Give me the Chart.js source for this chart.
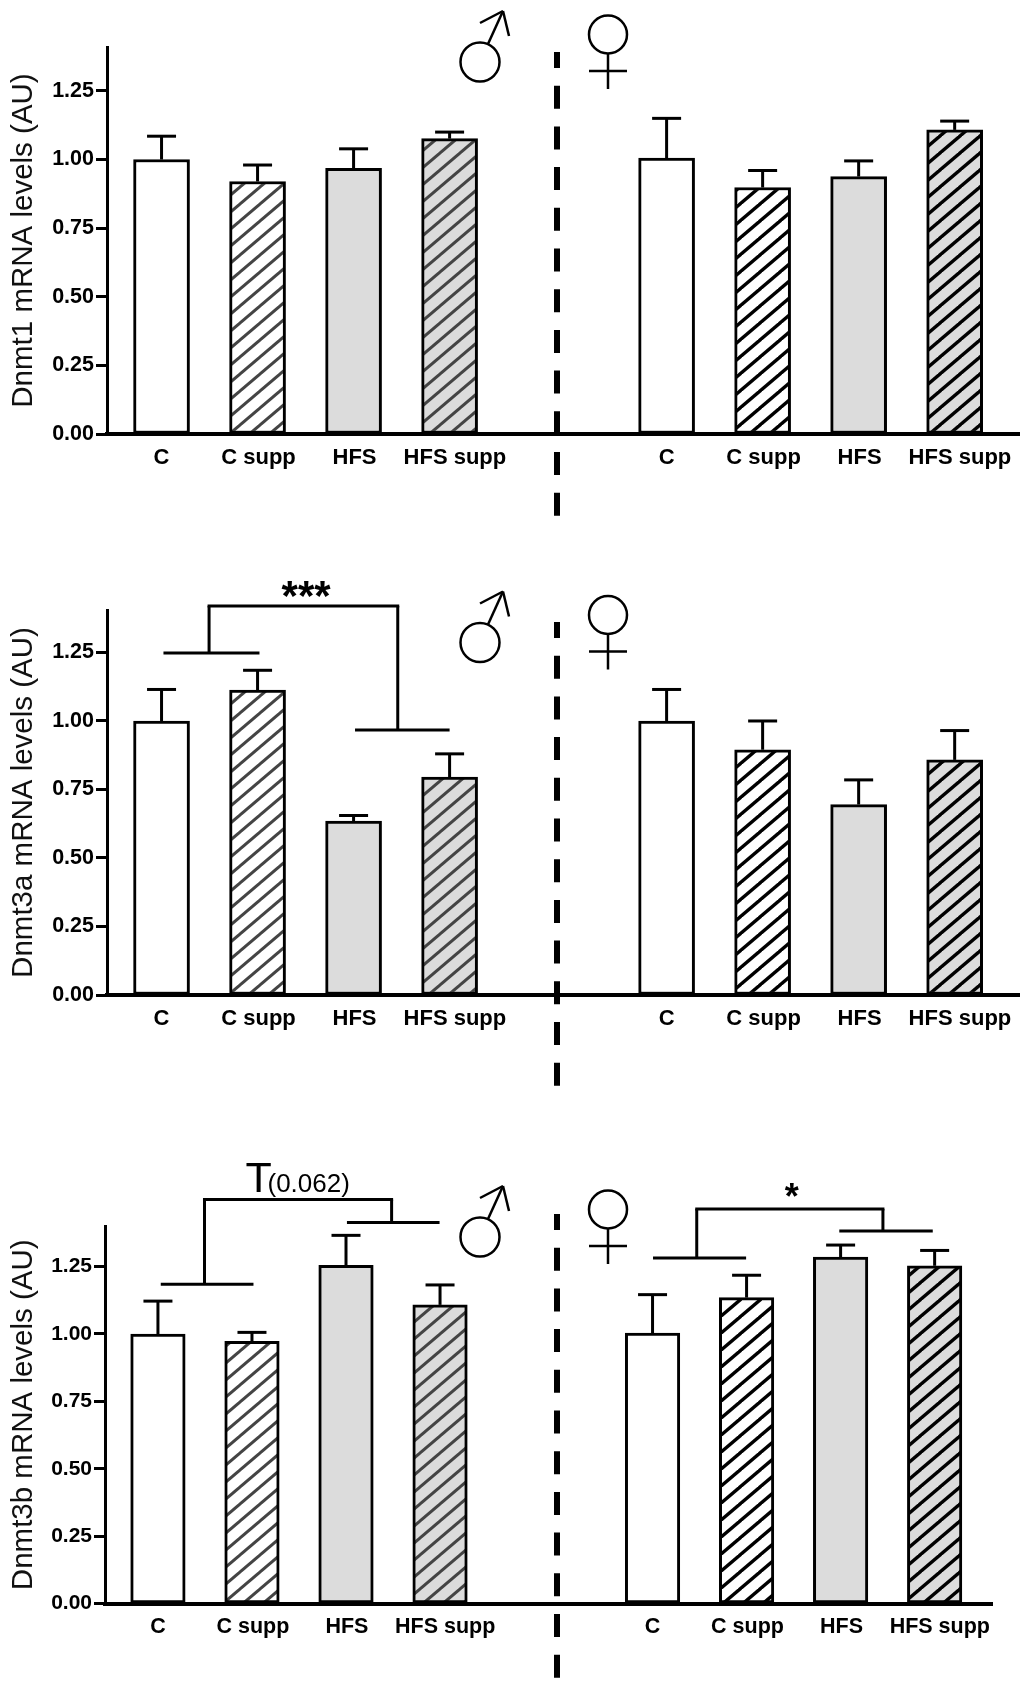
<!DOCTYPE html>
<html>
<head>
<meta charset="utf-8">
<title>Dnmt mRNA levels</title>
<script src="https://cdn.jsdelivr.net/npm/chart.js@4"></script>
<style>
    html, body { margin: 0; padding: 0; background: #fff; }
    body { position: relative; width: 1024px; height: 1689px; overflow: hidden; }
    canvas { position: absolute; left: 0; }
</style>
</head>
<body>
<canvas id="chart1" style="top: 0px" role="img" aria-label="Dnmt1 mRNA levels, male ♂ and female ♀"></canvas>
<canvas id="chart2" style="top: 560px" role="img" aria-label="Dnmt3a mRNA levels, male ♂ and female ♀"></canvas>
<canvas id="chart3" style="top: 1130px" role="img" aria-label="Dnmt3b mRNA levels, male ♂ and female ♀"></canvas>
<script>
const categories = ["C", "C supp", "HFS", "HFS supp"];
const yTicks = [0, 0.25, 0.5, 0.75, 1, 1.25];

// slot of each bar on the x axis, the two sexes sit either side of the dashed line
const malePos = [1, 2, 3, 4];
const femalePos = [6.26, 7.26, 8.26, 9.26];
// the tick labels are not quite centred under their bars
const labelShift = [0, 0.01, 0.01, 0.055];

const dnmt1Male = [1.0, 0.92, 0.968, 1.076];
const dnmt1MaleErr = [0.085, 0.06, 0.071, 0.024];
const dnmt1Female = [1.005, 0.898, 0.938, 1.108];
const dnmt1FemaleErr = [0.145, 0.062, 0.057, 0.032];

const dnmt3aMale = [1.0, 1.113, 0.635, 0.795];
const dnmt3aMaleErr = [0.115, 0.072, 0.02, 0.085];
const dnmt3aFemale = [1.0, 0.895, 0.695, 0.858];
const dnmt3aFemaleErr = [0.115, 0.105, 0.09, 0.107];

const dnmt3bMale = [1.0, 0.973, 1.255, 1.108];
const dnmt3bMaleErr = [0.122, 0.033, 0.111, 0.074];
const dnmt3bFemale = [1.003, 1.135, 1.285, 1.253];
const dnmt3bFemaleErr = [0.143, 0.083, 0.045, 0.057];

const FONT = '"Liberation Sans", Arial, sans-serif';
const GRAY = "#dcdcdc";

function hatch(bg, color, lineWidth) {
    const w = 20, h = 17;
    const c = document.createElement("canvas");
    c.width = w;
    c.height = h;
    const g = c.getContext("2d");
    g.fillStyle = bg;
    g.fillRect(0, 0, w, h);
    g.strokeStyle = color;
    g.lineWidth = lineWidth;
    [-1, 0, 1].forEach(k => {
        g.beginPath();
        g.moveTo(k * w - 1, h + 0.85);
        g.lineTo(k * w + w + 1, -0.85);
        g.stroke();
    });
    return g.createPattern(c, "repeat");
}

const fills = [
    "#ffffff", hatch("#ffffff", "#444444", 3), GRAY, hatch(GRAY, "#444444", 3),
    "#ffffff", hatch("#ffffff", "#000000", 3.4), GRAY, hatch(GRAY, "#000000", 3.4)
];

function line(ctx, x1, y1, x2, y2) {
    ctx.beginPath();
    ctx.moveTo(x1, y1);
    ctx.lineTo(x2, y2);
    ctx.stroke();
}

function drawMale(ctx, dy) {
    ctx.lineWidth = 2.5;
    ctx.strokeStyle = "#000";
    ctx.beginPath();
    ctx.arc(480, 62 + dy, 19.5, 0, Math.PI * 2);
    ctx.stroke();
    line(ctx, 488, 44 + dy, 503, 11 + dy);
    line(ctx, 480, 23 + dy, 503, 11 + dy);
    line(ctx, 503, 11 + dy, 509, 36 + dy);
}

function drawFemale(ctx, dy) {
    ctx.lineWidth = 2.5;
    ctx.strokeStyle = "#000";
    ctx.beginPath();
    ctx.arc(608, 34.5 + dy, 19, 0, Math.PI * 2);
    ctx.stroke();
    line(ctx, 608, 54 + dy, 608, 89 + dy);
    line(ctx, 589, 71 + dy, 627, 71 + dy);
}

const overlay = {
    id: "overlay",
    afterDatasetsDraw(chart, args, opts) {
        const ctx = chart.ctx;
        const x = chart.scales.x;
        const y = chart.scales.y;
        ctx.save();
        ctx.strokeStyle = "#000";
        ctx.fillStyle = "#000";

        // error bars, upper side only
        ctx.lineWidth = 3;
        opts.errors.forEach((err, i) => {
            const px = x.getPixelForValue(opts.positions[i]);
            const top = y.getPixelForValue(opts.values[i] + err);
            line(ctx, px, y.getPixelForValue(opts.values[i]), px, top);
            line(ctx, px - 14.5, top, px + 14.5, top);
        });

        // significance brackets
        ctx.lineWidth = 3;
        opts.brackets.forEach(b => {
            const top = y.getPixelForValue(b.top);
            const lowL = y.getPixelForValue(b.left[2]);
            const lowR = y.getPixelForValue(b.right[2]);
            const xL = x.getPixelForValue(b.stems[0]);
            const xR = x.getPixelForValue(b.stems[1]);
            line(ctx, xL - 1.5, top, xR + 1.5, top);
            line(ctx, xL, top, xL, lowL);
            line(ctx, xR, top, xR, lowR);
            line(ctx, x.getPixelForValue(b.left[0]), lowL, x.getPixelForValue(b.left[1]), lowL);
            line(ctx, x.getPixelForValue(b.right[0]), lowR, x.getPixelForValue(b.right[1]), lowR);
        });

        opts.labels.forEach(t => {
            ctx.font = (t.weight || "normal") + " " + t.size + "px " + FONT;
            ctx.textAlign = t.align;
            ctx.textBaseline = "alphabetic";
            ctx.fillText(t.text, x.getPixelForValue(t.x), y.getPixelForValue(t.y));
        });

        // dashed divider between male and female
        ctx.lineWidth = 6;
        ctx.setLineDash([23, 17.7]);
        ctx.lineDashOffset = 7;
        line(ctx, 557, opts.dash[0], 557, opts.dash[1]);
        ctx.setLineDash([]);

        drawMale(ctx, opts.symbolDy);
        drawFemale(ctx, opts.symbolDy);
        ctx.restore();
    }
};

function createConfig(p) {
    const values = p.male.concat(p.female);
    const positions = malePos.concat(femalePos);
    const axisHeight = 40;
    return {
        type: "bar",
        data: {
            datasets: [{
                data: positions.map((x, i) => ({ x: x, y: values[i] })),
                backgroundColor: fills,
                borderColor: "#000",
                borderWidth: 3,
                borderSkipped: false,
                barThickness: p.barWidth
            }]
        },
        options: {
            responsive: false,
            animation: false,
            devicePixelRatio: 1,
            layout: {
                padding: {
                    top: p.plot.top,
                    left: 0,
                    right: 1024 - p.plot.right,
                    bottom: p.height - p.plot.bottom - axisHeight
                }
            },
            plugins: {
                legend: { display: false },
                tooltip: { enabled: false },
                overlay: {
                    values: values,
                    positions: positions,
                    errors: p.maleErr.concat(p.femaleErr),
                    brackets: p.brackets,
                    labels: p.labels,
                    dash: p.dash,
                    symbolDy: p.symbolDy
                }
            },
            scales: {
                x: {
                    type: "linear",
                    offset: false,
                    min: p.xRange[0],
                    max: p.xRange[1],
                    grid: { display: false, drawTicks: false, offset: false },
                    border: { display: true, color: "#000", width: 4 },
                    afterBuildTicks: scale => {
                        scale.ticks = positions.map((v, i) => ({ value: v + labelShift[i % 4] }));
                    },
                    afterFit: scale => { scale.height = axisHeight; },
                    ticks: {
                        autoSkip: false,
                        maxRotation: 0,
                        padding: 11,
                        color: "#000",
                        font: { family: FONT, size: p.fontSize + 0.5, weight: "bold" },
                        callback: (v, i) => categories[i % 4]
                    }
                },
                y: {
                    min: 0,
                    max: p.yMax,
                    grid: { drawOnChartArea: false, tickLength: 11, tickWidth: 3, tickColor: "#000" },
                    border: { display: true, color: "#000", width: 3 },
                    afterBuildTicks: scale => {
                        scale.ticks = yTicks.map(v => ({ value: v }));
                    },
                    afterFit: scale => { scale.width = p.plot.left; },
                    title: {
                        display: true,
                        text: p.yTitle,
                        color: "#111",
                        font: { family: FONT, size: 29.5, weight: "normal" },
                        padding: { top: 6, bottom: 0 }
                    },
                    ticks: {
                        padding: 2,
                        color: "#000",
                        font: { family: FONT, size: p.fontSize, weight: "bold" },
                        callback: v => v.toFixed(2)
                    }
                }
            }
        },
        plugins: [overlay]
    };
}

const panels = [
    {
        id: "chart1", height: 540, yTitle: "Dnmt1 mRNA levels (AU)",
        plot: { top: 47, bottom: 434, left: 107, right: 1019 },
        xRange: [0.432, 9.93], yMax: 1.41, barWidth: 56, fontSize: 21.5,
        male: dnmt1Male, maleErr: dnmt1MaleErr, female: dnmt1Female, femaleErr: dnmt1FemaleErr,
        brackets: [], labels: [], dash: [52, 516], symbolDy: 0
    },
    {
        id: "chart2", height: 540, yTitle: "Dnmt3a mRNA levels (AU)",
        plot: { top: 50, bottom: 435, left: 107, right: 1019 },
        xRange: [0.432, 9.93], yMax: 1.405, barWidth: 56, fontSize: 21.5,
        male: dnmt3aMale, maleErr: dnmt3aMaleErr, female: dnmt3aFemale, femaleErr: dnmt3aFemaleErr,
        brackets: [
            { top: 1.42, stems: [1.495, 3.46], left: [1.02, 2.02, 1.248], right: [3.015, 4.0, 0.967] }
        ],
        labels: [{ text: "***", x: 2.505, y: 1.404, size: 42, align: "center", weight: "bold" }],
        dash: [62, 527], symbolDy: 20.5
    },
    {
        id: "chart3", height: 559, yTitle: "Dnmt3b mRNA levels (AU)",
        plot: { top: 96, bottom: 473.5, left: 105, right: 992 },
        xRange: [0.437, 9.87], yMax: 1.4007, barWidth: 54.5, fontSize: 21,
        male: dnmt3bMale, maleErr: dnmt3bMaleErr, female: dnmt3bFemale, femaleErr: dnmt3bFemaleErr,
        brackets: [
            { top: 1.499, stems: [1.495, 3.485], left: [1.03, 2.016, 1.185], right: [3.01, 3.995, 1.414] },
            { top: 1.464, stems: [6.73, 8.71], left: [6.265, 7.255, 1.282], right: [8.246, 9.24, 1.382] }
        ],
        labels: [
            { text: "T", x: 1.93, y: 1.526, size: 43, align: "left" },
            { text: "(0.062)", x: 2.165, y: 1.526, size: 26, align: "left" },
            { text: "*", x: 7.74, y: 1.464, size: 36, align: "center", weight: "bold" }
        ],
        dash: [84, 548], symbolDy: 45
    }
];

const charts = panels.map(p => {
    const canvas = document.getElementById(p.id);
    canvas.width = 1024;
    canvas.height = p.height;
    return new Chart(canvas, createConfig(p));
});
</script>
</body>
</html>
